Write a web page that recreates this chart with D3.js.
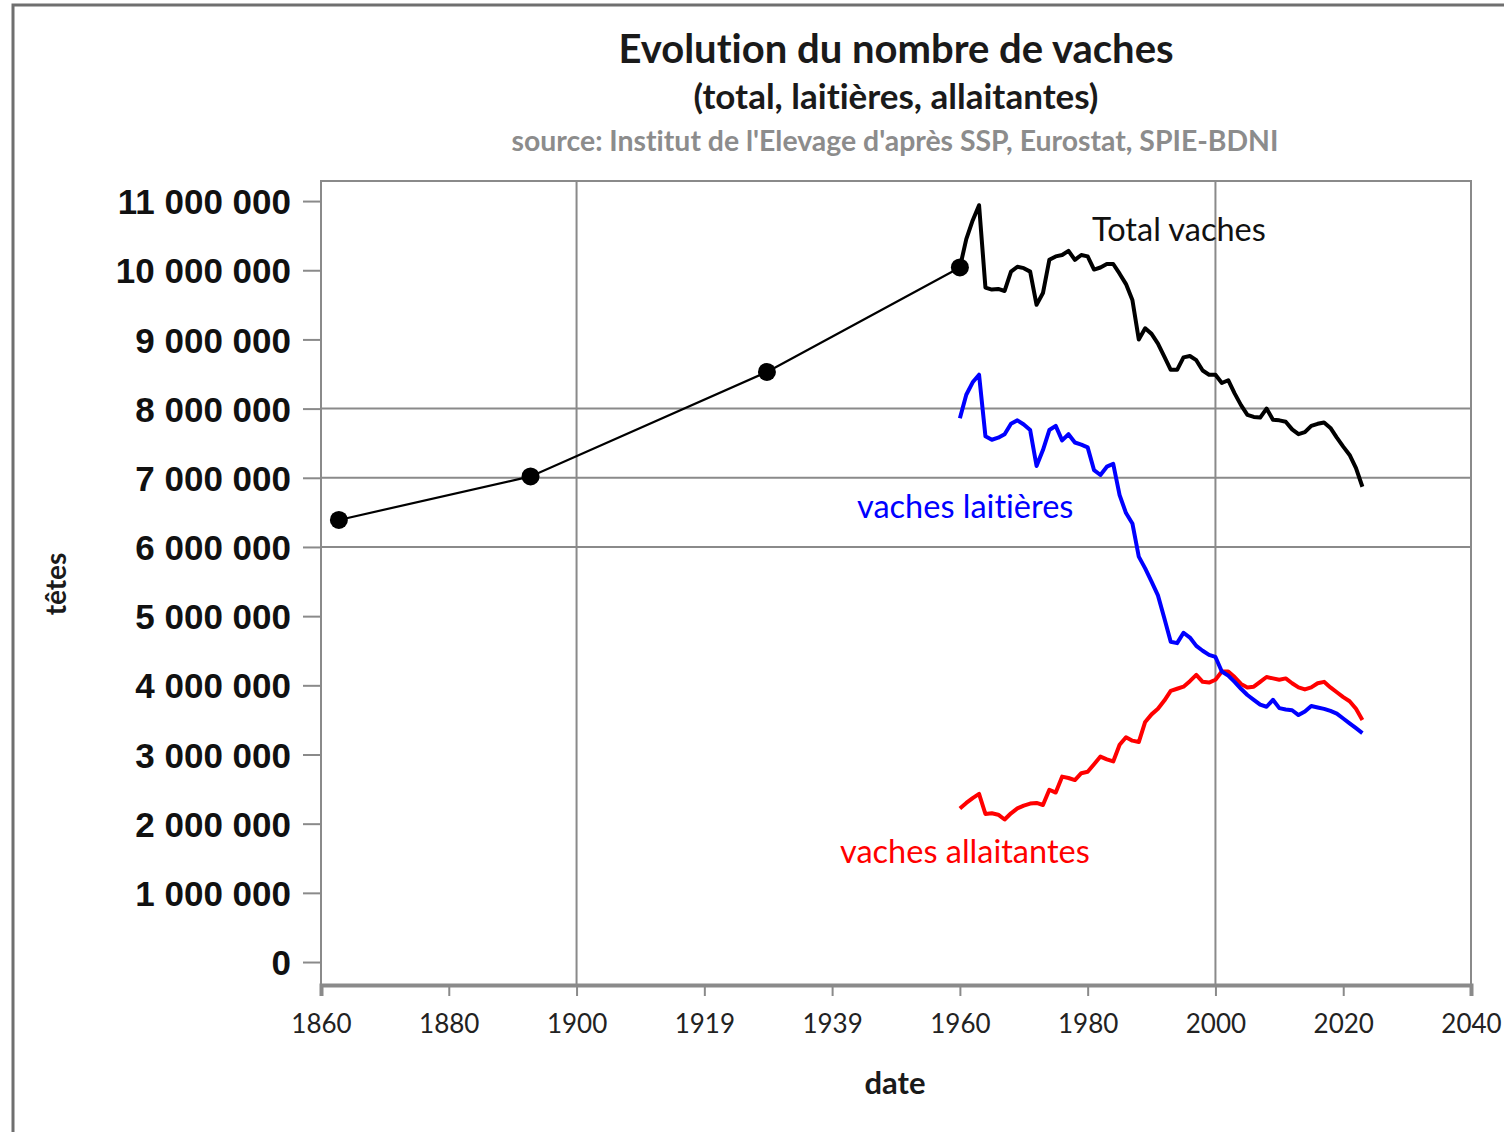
<!DOCTYPE html>
<html>
<head>
<meta charset="utf-8">
<script src="https://cdn.jsdelivr.net/npm/d3@7"></script>
<style>
  body { margin: 0; background: #fff; }
  svg { display: block; }
  text { font-variant-ligatures: none; }
</style>
</head>
<body>
<svg width="1504" height="1132"></svg>
<script>

// anciens recensements + 1960 (points)
let histYears = [1862.8, 1892.8, 1929.8, 1960]
let histTotal = [6390000, 7020000, 8530000, 10040000]

// series annuelles 1960-2023 (millions de tetes)
let years = d3.range(1960, 2024)
let totalVaches = [
  10.04, 10.45, 10.72, 10.94, 9.75, 9.72, 9.73, 9.70, 9.98, 10.05,
  10.03, 9.98, 9.50, 9.67, 10.15, 10.20, 10.22, 10.28, 10.15, 10.22,
  10.20, 10.01, 10.04, 10.09, 10.09, 9.95, 9.80, 9.57, 9.00, 9.16,
  9.08, 8.94, 8.75, 8.56, 8.56, 8.74, 8.76, 8.70, 8.55, 8.49,
  8.49, 8.37, 8.41, 8.22, 8.05, 7.91, 7.88, 7.87, 8.00, 7.84,
  7.83, 7.81, 7.70, 7.63, 7.66, 7.75, 7.78, 7.80, 7.72, 7.58,
  7.45, 7.33, 7.14, 6.87
]
let laitieres = [
  7.86, 8.20, 8.38, 8.49, 7.60, 7.55, 7.58, 7.63, 7.78, 7.83,
  7.77, 7.69, 7.17, 7.40, 7.69, 7.75, 7.54, 7.63, 7.51, 7.48,
  7.44, 7.11, 7.04, 7.16, 7.20, 6.75, 6.49, 6.34, 5.86, 5.69,
  5.50, 5.30, 4.97, 4.63, 4.61, 4.76, 4.69, 4.57, 4.50, 4.44,
  4.41, 4.20, 4.14, 4.05, 3.95, 3.86, 3.79, 3.72, 3.69, 3.79,
  3.67, 3.65, 3.64, 3.57, 3.62, 3.70, 3.68, 3.66, 3.63, 3.59,
  3.52, 3.45, 3.38, 3.31
]
let allaitantes = [
  2.22, 2.30, 2.37, 2.43, 2.14, 2.15, 2.13, 2.06, 2.15, 2.22,
  2.26, 2.29, 2.30, 2.27, 2.49, 2.45, 2.68, 2.66, 2.63, 2.73,
  2.75, 2.86, 2.97, 2.93, 2.90, 3.14, 3.25, 3.20, 3.18, 3.47,
  3.58, 3.66, 3.78, 3.92, 3.95, 3.98, 4.06, 4.15, 4.05, 4.04,
  4.08, 4.20, 4.20, 4.12, 4.02, 3.97, 3.98, 4.05, 4.12, 4.10,
  4.08, 4.10, 4.03, 3.97, 3.94, 3.97, 4.03, 4.05, 3.97, 3.90,
  3.83, 3.77, 3.66, 3.50
]

let xTicks = [1860, 1880, 1900, 1920, 1940, 1960, 1980, 2000, 2020, 2040]
let xTickLabels = ['1860', '1880', '1900', '1919', '1939', '1960', '1980', '2000', '2020', '2040']
let yTicks = d3.range(0, 12000000, 1000000)
let gridYears = [1900, 2000]
let gridValues = [6000000, 7000000, 8000000]

let svg = d3.select('svg')
let plotLeft = 321, plotRight = 1471, plotTop = 181, plotBottom = 985

let x = d3.scaleLinear().domain([1860, 2040]).range([plotLeft, plotRight])
let y = d3.scaleLinear().domain([-332000, 11290000]).range([plotBottom, plotTop])

let fr = d3.formatLocale({ decimal: ',', thousands: ' ', grouping: [3], currency: ['', ' €'] })
let fmt = fr.format(',.0f')

let calib = 'Lato, "Open Sans", sans-serif'
let gray = '#8a8a8a'

// cadre exterieur
svg.append('path')
  .attr('d', 'M13,1132 V5 H1504')
  .attr('fill', 'none')
  .attr('stroke', '#6f6f6f')
  .attr('stroke-width', 3)

// titres
svg.append('text')
  .attr('x', 896).attr('y', 63)
  .attr('text-anchor', 'middle')
  .attr('font-family', calib).attr('font-weight', 'bold').attr('font-size', 40)
  .attr('fill', '#1a1a1a')
  .text('Evolution du nombre de vaches')

svg.append('text')
  .attr('x', 896).attr('y', 109)
  .attr('text-anchor', 'middle')
  .attr('font-family', calib).attr('font-weight', 'bold').attr('font-size', 35)
  .attr('fill', '#1a1a1a')
  .text('(total, laitières, allaitantes)')

svg.append('text')
  .attr('x', 895).attr('y', 151)
  .attr('text-anchor', 'middle')
  .attr('font-family', calib).attr('font-weight', 'bold').attr('font-size', 28.4)
  .attr('fill', '#8c8c8c')
  .text("source: Institut de l'Elevage d'après SSP, Eurostat, SPIE-BDNI")

// grille
svg.append('g').selectAll('line')
  .data(gridYears)
  .enter().append('line')
  .attr('x1', d => x(d)).attr('x2', d => x(d))
  .attr('y1', plotTop).attr('y2', plotBottom)
  .attr('stroke', gray).attr('stroke-width', 2)

svg.append('g').selectAll('line')
  .data(gridValues)
  .enter().append('line')
  .attr('x1', plotLeft).attr('x2', plotRight)
  .attr('y1', d => y(d)).attr('y2', d => y(d))
  .attr('stroke', gray).attr('stroke-width', 2)

// cadre du graphique
svg.append('rect')
  .attr('x', plotLeft).attr('y', plotTop)
  .attr('width', plotRight - plotLeft).attr('height', plotBottom - plotTop)
  .attr('fill', 'none')
  .attr('stroke', gray).attr('stroke-width', 2)

// axe y
let yAxis = svg.append('g')
  .attr('transform', `translate(${plotLeft},0)`)
  .call(d3.axisLeft(y).tickValues(yTicks).tickSize(18).tickPadding(12).tickFormat(fmt))
yAxis.select('.domain').remove()
yAxis.selectAll('.tick line').attr('stroke', gray).attr('stroke-width', 2)
yAxis.selectAll('.tick text')
  .attr('font-family', '"Liberation Sans", Arial, sans-serif')
  .attr('font-weight', 'bold')
  .attr('font-size', 35)
  .attr('fill', '#111')
  .attr('dy', '0.36em')

// axe x
let xAxis = svg.append('g')
  .attr('transform', `translate(0,${plotBottom})`)
  .call(d3.axisBottom(x).tickValues(xTicks).tickSize(11).tickPadding(19)
    .tickFormat((d, i) => xTickLabels[i]))
xAxis.select('.domain').attr('stroke', gray).attr('stroke-width', 4)
xAxis.selectAll('.tick line').attr('stroke', gray).attr('stroke-width', 2)
xAxis.selectAll('.tick text')
  .attr('font-family', calib)
  .attr('font-size', 26)
  .attr('fill', '#222')

// titres des axes
svg.append('text')
  .attr('transform', 'translate(66,584) rotate(-90)')
  .attr('text-anchor', 'middle')
  .attr('font-family', calib).attr('font-weight', 'bold').attr('font-size', 28)
  .attr('fill', '#1a1a1a')
  .text('têtes')

svg.append('text')
  .attr('x', 895).attr('y', 1094)
  .attr('text-anchor', 'middle')
  .attr('font-family', calib).attr('font-weight', 'bold').attr('font-size', 31)
  .attr('fill', '#1a1a1a')
  .text('date')

// courbes
let hist = histYears.map((d, i) => ({ year: d, v: histTotal[i] }))

svg.append('path')
  .datum(hist)
  .attr('fill', 'none')
  .attr('stroke', '#000')
  .attr('stroke-width', 2.2)
  .attr('d', d3.line().x(d => x(d.year)).y(d => y(d.v)))

let line = d3.line()
  .x(d => x(d.year))
  .y(d => y(d.v * 1000000))

let series = [
  { values: allaitantes, color: '#ff0000' },
  { values: laitieres, color: '#0000ff' },
  { values: totalVaches, color: '#000000' }
]

series.forEach(s => {
  svg.append('path')
    .datum(years.map((yr, i) => ({ year: yr, v: s.values[i] })))
    .attr('fill', 'none')
    .attr('stroke', s.color)
    .attr('stroke-width', 4)
    .attr('stroke-linejoin', 'round')
    .attr('d', line)
})

svg.append('g').selectAll('circle')
  .data(hist)
  .enter().append('circle')
  .attr('cx', d => x(d.year))
  .attr('cy', d => y(d.v))
  .attr('r', 9)
  .attr('fill', '#000')

// etiquettes des courbes
let labels = [
  { text: 'Total vaches', x: 1092, y: 241, color: '#111' },
  { text: 'vaches laitières', x: 857, y: 518, color: '#0000ff' },
  { text: 'vaches allaitantes', x: 840, y: 863, color: '#ff0000' }
]

svg.append('g').selectAll('text')
  .data(labels)
  .enter().append('text')
  .attr('x', d => d.x).attr('y', d => d.y)
  .attr('font-family', calib).attr('font-size', 32.5)
  .attr('fill', d => d.color)
  .text(d => d.text)

</script>
</body>
</html>
